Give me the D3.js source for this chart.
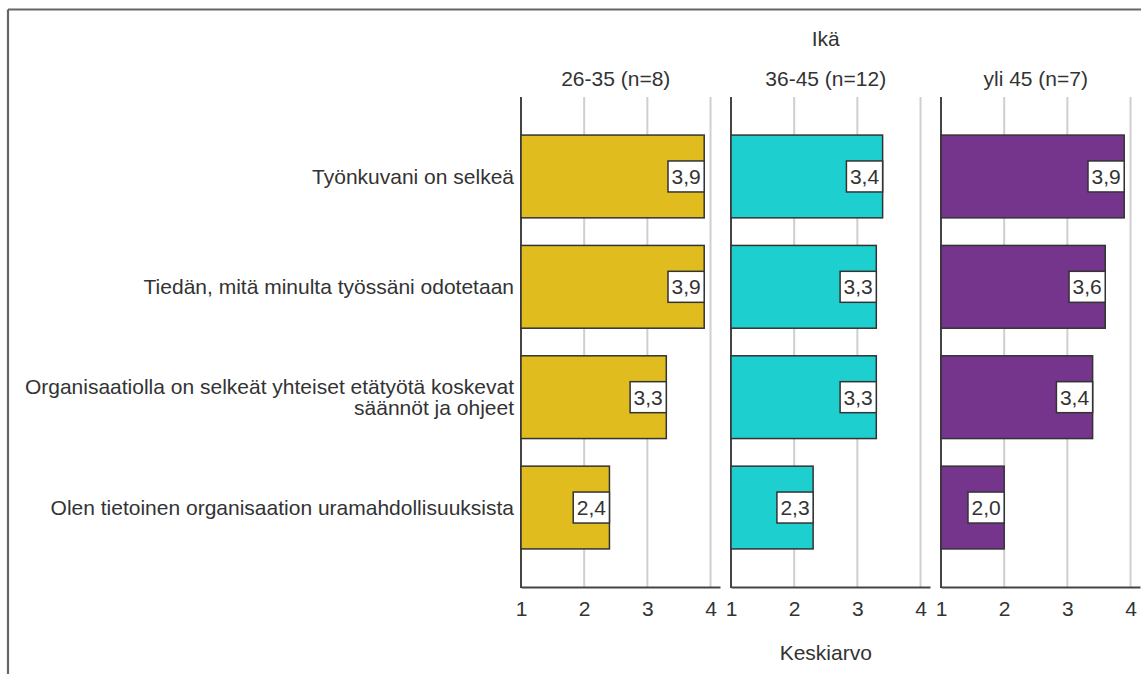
<!DOCTYPE html>
<html>
<head>
<meta charset="utf-8">
<script src="https://cdn.jsdelivr.net/npm/d3@7"></script>
<style>
  html, body { margin: 0; padding: 0; background: #fff; }
  svg { display: block; font-family: "Liberation Sans", Arial, sans-serif; }
</style>
</head>
<body>
<svg id="chart" width="1141" height="674"></svg>
<script>
// Statements (rows); "\n" marks a manual line break in the label
const categories = [
  "Työnkuvani on selkeä",
  "Tiedän, mitä minulta työssäni odotetaan",
  "Organisaatiolla on selkeät yhteiset etätyötä koskevat\nsäännöt ja ohjeet",
  "Olen tietoinen organisaation uramahdollisuuksista"
];

// Age groups (panels)
const groups = ["26-35 (n=8)", "36-45 (n=12)", "yli 45 (n=7)"];

// Mean scores per age group, in the order of the statements
const values26to35 = [3.9, 3.9, 3.3, 2.4];
const values36to45 = [3.4, 3.3, 3.3, 2.3];
const valuesOver45 = [3.9, 3.6, 3.4, 2.0];
const seriesValues = [values26to35, values36to45, valuesOver45];

const groupColors = ["#e1bc1e", "#1ecfcf", "#76358d"];
const xTickValues = [1, 2, 3, 4];

const groupTitle = "Ikä";
const axisTitle = "Keskiarvo";

const fi = d3.formatLocale({ decimal: ",", thousands: " ", grouping: [3], currency: ["", " €"] });
const fmt = fi.format(".1f");

const svg = d3.select("#chart");
const textColor = "#333";
const fontSize = 21;

// Frame lines along the top and left edges
svg.append("line").attr("x1", 8).attr("x2", 1141).attr("y1", 9.5).attr("y2", 9.5)
  .attr("stroke", "#666").attr("stroke-width", 2.2);
svg.append("line").attr("x1", 8).attr("x2", 8).attr("y1", 9.5).attr("y2", 674)
  .attr("stroke", "#666").attr("stroke-width", 2.2);

const plotTop = 97, plotBottom = 587;
const panelLeft0 = 521, panelWidth = 199, panelGap = 11;

const y = d3.scaleBand()
  .domain(categories)
  .range([plotTop, plotBottom])
  .paddingInner(0.25)
  .paddingOuter(0.345);

// Row labels
const rowLabels = svg.append("g");
categories.forEach(c => {
  const lines = c.split("\n");
  const cy = y(c) + y.bandwidth() / 2;
  const lh = 21.5;
  const t = rowLabels.append("text")
    .attr("text-anchor", "end")
    .attr("fill", textColor)
    .attr("font-size", fontSize);
  lines.forEach((ln, i) => {
    t.append("tspan")
      .attr("x", 514)
      .attr("y", cy + (i - (lines.length - 1) / 2) * lh)
      .attr("dy", "0.36em")
      .text(ln);
  });
});

const panelCenters = [];

groups.forEach((g, gi) => {
  const x0 = panelLeft0 + gi * (panelWidth + panelGap);
  const x = d3.scaleLinear().domain([1, 4.15]).range([x0, x0 + panelWidth]);
  const panel = svg.append("g");
  panelCenters.push((x(1) + x(4)) / 2);

  // Vertical gridlines
  panel.selectAll("line.grid")
    .data(xTickValues.filter(v => v > 1))
    .join("line")
    .attr("class", "grid")
    .attr("x1", d => x(d)).attr("x2", d => x(d))
    .attr("y1", plotTop).attr("y2", plotBottom)
    .attr("stroke", "#cfcfcf").attr("stroke-width", 2);

  // Bottom axis with tick labels
  const axis = d3.axisBottom(x).tickValues(xTickValues).tickSize(0).tickPadding(14)
    .tickFormat(d3.format("d"));
  const ax = panel.append("g").attr("transform", `translate(0,${plotBottom})`).call(axis);
  ax.select(".domain").attr("stroke", "#444").attr("stroke-width", 2);
  ax.selectAll("text").attr("font-size", fontSize).attr("fill", textColor)
    .attr("font-family", "Liberation Sans, Arial, sans-serif");

  // Left axis line
  panel.append("line")
    .attr("x1", x(1)).attr("x2", x(1))
    .attr("y1", plotTop).attr("y2", plotBottom + 1)
    .attr("stroke", "#444").attr("stroke-width", 2);

  const vals = seriesValues[gi];

  // Bars
  panel.selectAll("rect.bar")
    .data(categories.map((c, i) => ({ c, v: vals[i] })))
    .join("rect")
    .attr("class", "bar")
    .attr("x", x(1))
    .attr("y", d => y(d.c))
    .attr("width", d => x(d.v) - x(1))
    .attr("height", y.bandwidth())
    .attr("fill", groupColors[gi])
    .attr("stroke", "#333")
    .attr("stroke-width", 1.5);

  // Value labels in white boxes at the bar ends
  categories.forEach((c, i) => {
    const v = vals[i];
    const cy = y(c) + y.bandwidth() / 2;
    const lg = panel.append("g");
    const txt = lg.append("text")
      .attr("text-anchor", "end")
      .attr("x", x(v) - 3.5)
      .attr("y", cy)
      .attr("dy", "0.36em")
      .attr("font-size", fontSize)
      .attr("fill", textColor)
      .text(fmt(v));
    const w = txt.node().getComputedTextLength() + 7;
    lg.insert("rect", "text")
      .attr("x", x(v) - w)
      .attr("y", cy - 15.5)
      .attr("width", w)
      .attr("height", 31)
      .attr("fill", "#fff")
      .attr("stroke", "#333")
      .attr("stroke-width", 1.5);
  });

  // Panel heading
  svg.append("text")
    .attr("x", (x(1) + x(4)) / 2)
    .attr("y", 78)
    .attr("dy", "0.36em")
    .attr("text-anchor", "middle")
    .attr("font-size", fontSize)
    .attr("fill", textColor)
    .text(g);
});

const midX = (panelCenters[0] + panelCenters[2]) / 2;

svg.append("text")
  .attr("x", midX).attr("y", 38).attr("dy", "0.36em")
  .attr("text-anchor", "middle")
  .attr("font-size", fontSize).attr("fill", textColor)
  .text(groupTitle);

svg.append("text")
  .attr("x", midX).attr("y", 652).attr("dy", "0.36em")
  .attr("text-anchor", "middle")
  .attr("font-size", fontSize).attr("fill", textColor)
  .text(axisTitle);
</script>
</body>
</html>
